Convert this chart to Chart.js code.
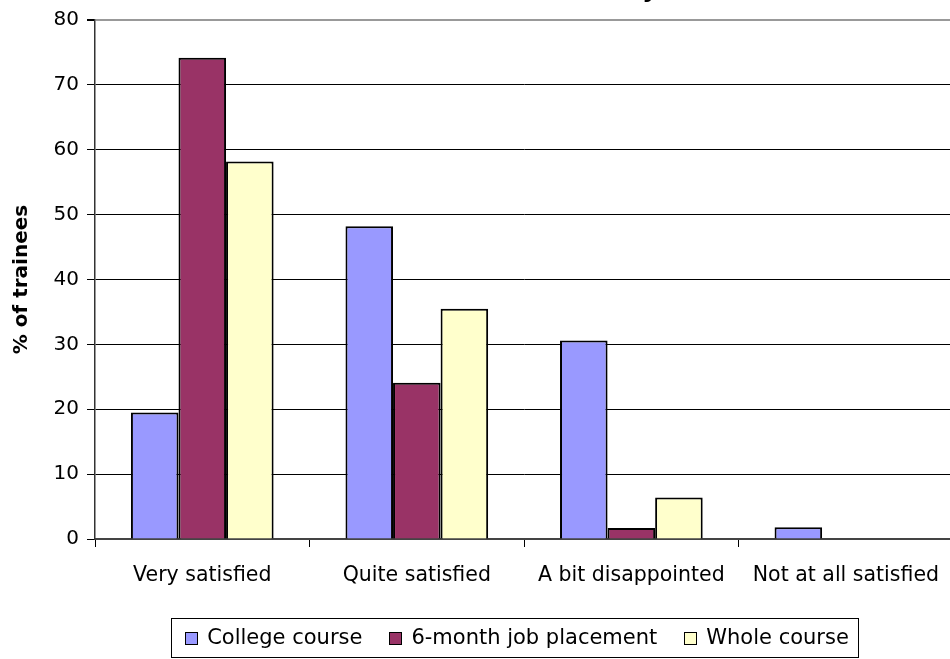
<!DOCTYPE html>
<html>
<head>
<meta charset="utf-8">
<script src="https://cdn.jsdelivr.net/npm/chart.js@4/dist/chart.umd.min.js"></script>
<style>
  html, body { margin: 0; padding: 0; background: #fff; overflow: hidden; }
  #wrap { position: relative; width: 955px; height: 659px; }
</style>
</head>
<body>
<div id="wrap"><canvas id="chartSatisfaccion"></canvas></div>
<script>
const categories = ['Very satisfied', 'Quite satisfied', 'A bit disappointed', 'Not at all satisfied'];
const seriesNames = ['College course', '6-month job placement', 'Whole course'];
const collegeCourse = [19.5, 48.2, 30.6, 1.8];
const jobPlacement = [74.2, 24.1, 1.7, 0];
const wholeCourse = [58.2, 35.5, 6.4, 0];
const seriesColors = ['#9999FF', '#993366', '#FFFFCC'];
const yTicks = [0, 10, 20, 30, 40, 50, 60, 70, 80];
const chartTitle = 'Overall satisfaction survey';

const FONT = 'DejaVu Sans';

// title sits mostly above the canvas, only the tail shows
const titlePlugin = {
  id: 'topTitle',
  afterDraw(chart) {
    const ctx = chart.ctx;
    ctx.save();
    ctx.font = 'bold 24px "' + FONT + '"';
    ctx.fillStyle = '#000';
    ctx.textAlign = 'right';
    ctx.textBaseline = 'alphabetic';
    ctx.fillText(chartTitle, 658, -3);
    ctx.restore();
  }
};

// boxed legend under the axis
const boxLegend = {
  id: 'boxLegend',
  afterDraw(chart) {
    const ctx = chart.ctx;
    const box = 13, gapText = 9, gapItem = 27;
    ctx.save();
    ctx.font = '21px "' + FONT + '"';
    const items = chart.data.datasets.map(ds => ({
      label: ds.label, fill: ds.backgroundColor, w: ctx.measureText(ds.label).width
    }));
    const total = items.reduce((s, it) => s + box + gapText + it.w, 0) + gapItem * (items.length - 1);
    let x = 517 - total / 2;
    const cy = 638;
    ctx.strokeStyle = '#000';
    ctx.lineWidth = 1;
    ctx.strokeRect(Math.round(x - 14) + 0.5, 618.5, Math.round(total + 23), 39);
    ctx.textBaseline = 'middle';
    ctx.fillStyle = '#000';
    items.forEach(it => {
      ctx.fillStyle = it.fill;
      ctx.fillRect(Math.round(x), cy - 6, box, box);
      ctx.strokeRect(Math.round(x) + 0.5, cy - 5.5, box - 1, box - 1);
      ctx.fillStyle = '#000';
      ctx.fillText(it.label, x + box + gapText, cy + 1);
      x += box + gapText + it.w + gapItem;
    });
    ctx.restore();
  }
};

const seriesData = [collegeCourse, jobPlacement, wholeCourse];

new Chart(document.getElementById('chartSatisfaccion').getContext('2d'), {
  type: 'bar',
  data: {
    labels: categories,
    datasets: seriesNames.map((name, i) => ({
      label: name,
      data: seriesData[i],
      backgroundColor: seriesColors[i],
      borderColor: '#000',
      borderWidth: 2,
      categoryPercentage: 0.665,
      barPercentage: 1
    }))
  },
  options: {
    responsive: true,
    maintainAspectRatio: false,
    animation: false,
    layout: { padding: { top: 18, left: 0, right: 0, bottom: 60 } },
    plugins: {
      legend: { display: false },
      tooltip: { enabled: false }
    },
    scales: {
      x: {
        grid: { drawOnChartArea: false, drawTicks: true, tickLength: 8, color: '#000', offset: true },
        border: { color: '#444', width: 2 },
        ticks: { color: '#000', font: { family: FONT, size: 20.5 }, padding: 16, maxRotation: 0 },
        afterFit(scale) { scale.height = 60; }
      },
      y: {
        min: 0,
        max: 80,
        afterBuildTicks(scale) { scale.ticks = yTicks.map(v => ({ value: v })); },
        grid: {
          color: c => (c.tick && c.tick.value === 80 ? '#999' : '#000'),
          lineWidth: c => (c.tick && c.tick.value === 80 ? 2 : 1),
          tickLength: 8,
          tickColor: '#000'
        },
        border: { color: '#333', width: 1.5 },
        ticks: { color: '#000', font: { family: FONT, size: 20 }, padding: 8 },
        title: {
          display: true,
          text: '% of trainees',
          color: '#000',
          font: { family: FONT, size: 20, weight: 'bold' },
          padding: { top: 10, bottom: 0 }
        },
        afterFit(scale) { scale.width = 95; }
      }
    }
  },
  plugins: [titlePlugin, boxLegend]
});
</script>
</body>
</html>
